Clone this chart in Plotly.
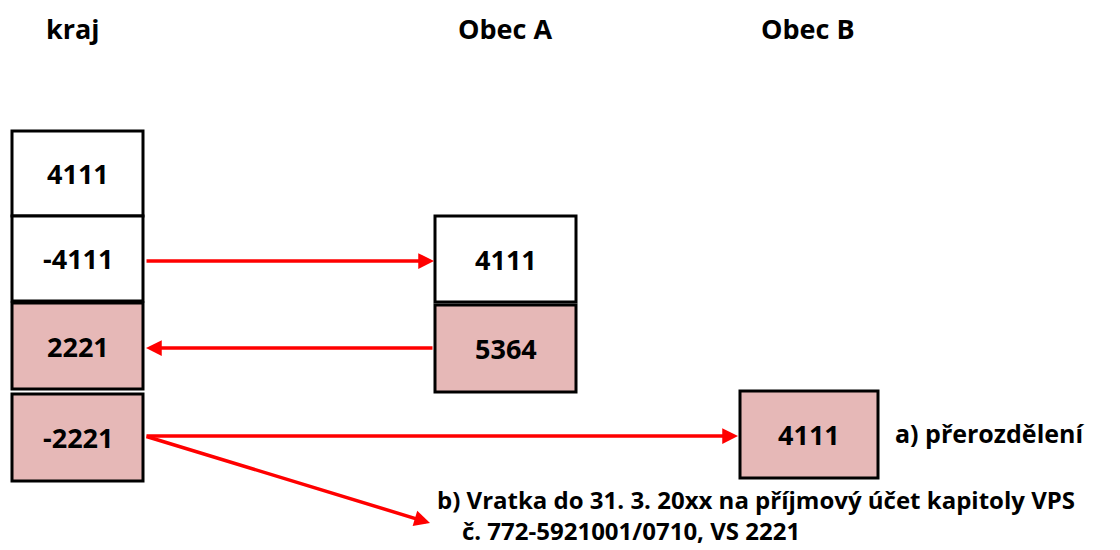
import plotly.graph_objects as go

# Data
columns = ["kraj", "Obec A", "Obec B"]
kraj_items = ["4111", "-4111", "2221", "-2221"]
kraj_fill = ["white", "white", "pink", "pink"]
obecA_items = ["4111", "5364"]
obecA_fill = ["white", "pink"]
obecB_items = ["4111"]
obecB_fill = ["pink"]
note_a = "a) přerozdělení"
note_b_line1 = "b) Vratka do 31. 3. 20xx na příjmový účet kapitoly VPS"
note_b_line2 = "č. 772-5921001/0710, VS 2221"

PINK = "#E6B8B7"
FONT = "Open Sans"

fig = go.Figure()
fig.add_trace(go.Scatter(x=[0, 1120], y=[0, 550], mode="markers",
                         marker=dict(opacity=0), hoverinfo="skip", showlegend=False))

col_x = {"kraj": (12, 143), "Obec A": (435, 576), "Obec B": (740, 878)}
title_x = {"kraj": 73, "Obec A": 505, "Obec B": 808}

shapes = []
annotations = []

def box(x0, x1, y0, y1, label, fill):
    shapes.append(dict(type="rect", xref="x", yref="y", x0=x0, x1=x1, y0=y0, y1=y1,
                       fillcolor=PINK if fill == "pink" else "white",
                       line=dict(color="black", width=3), layer="above"))
    annotations.append(dict(x=(x0 + x1) / 2, y=(y0 + y1) / 2, xref="x", yref="y",
                            text=f"<b>{label}</b>", showarrow=False,
                            font=dict(family=FONT, size=27, color="black")))

kraj_y = [(131, 216), (216, 301), (303, 389), (394, 481)]
for (y0, y1), lab, f in zip(kraj_y, kraj_items, kraj_fill):
    box(*col_x["kraj"], y0, y1, lab, f)
obA_y = [(216, 302), (305, 392)]
for (y0, y1), lab, f in zip(obA_y, obecA_items, obecA_fill):
    box(*col_x["Obec A"], y0, y1, lab, f)
for lab, f in zip(obecB_items, obecB_fill):
    box(*col_x["Obec B"], 391, 478, lab, f)

for c in columns:
    annotations.append(dict(x=title_x[c], y=28, xref="x", yref="y", text=f"<b>{c}</b>",
                            showarrow=False, font=dict(family=FONT, size=27, color="black")))

def arrow(x0, y0, x1, y1):
    annotations.append(dict(x=x1, y=y1, ax=x0, ay=y0, xref="x", yref="y", axref="x", ayref="y",
                            text="", showarrow=True, arrowhead=2, arrowsize=0.9, arrowwidth=3.5,
                            arrowcolor="#FF0000", standoff=0, startstandoff=0))

arrow(145, 261, 434, 261)
arrow(434, 348, 146, 348)
arrow(145, 436, 738, 436)
arrow(145, 436, 430, 523)

annotations.append(dict(x=893, y=433, xref="x", yref="y", text=f"<b>{note_a}</b>", showarrow=False,
                        xanchor="left", font=dict(family=FONT, size=25, color="black")))
annotations.append(dict(x=435, y=549, xref="x", yref="y", yanchor="bottom", align="left",
                        text=f"<b>{note_b_line1}<br>&nbsp;&nbsp;&nbsp;&nbsp;{note_b_line2}</b>",
                        showarrow=False, xanchor="left",
                        font=dict(family=FONT, size=24, color="black")))

fig.update_layout(
    width=1120, height=550, margin=dict(l=0, r=0, t=0, b=0),
    paper_bgcolor="white", plot_bgcolor="white",
    xaxis=dict(range=[0, 1120], visible=False, fixedrange=True),
    yaxis=dict(range=[550, 0], visible=False, fixedrange=True),
    shapes=shapes, annotations=annotations,
)
fig.write_html("out.html", config={"displayModeBar": False},
               post_script="document.body.style.margin='0';document.body.style.overflow='hidden';")
